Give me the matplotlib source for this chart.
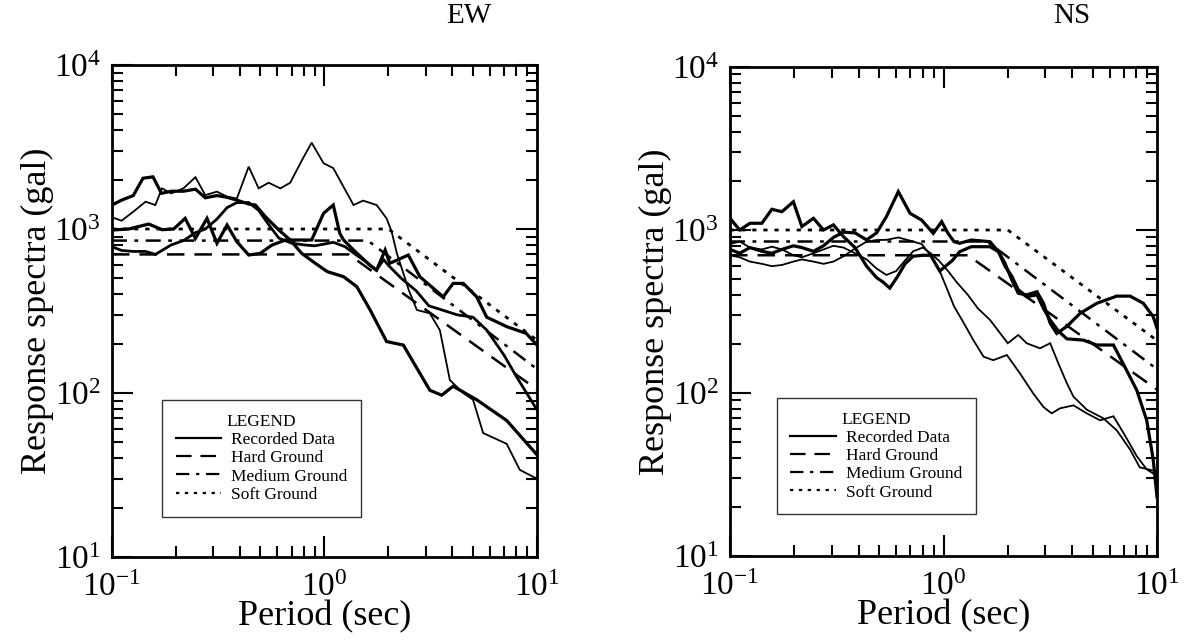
import numpy as np
import matplotlib.pyplot as plt
from matplotlib.ticker import LogLocator, NullFormatter

plt.rcParams['font.family'] = ['Liberation Serif', 'DejaVu Serif']
plt.rcParams['mathtext.fontset'] = 'stix'

# ---- design spectra (same on both panels)
hard_T = [0.1, 1.3, 10]
hard_sa = [700, 700, 105]
medium_T = [0.1, 1.6, 10]
medium_sa = [850, 850, 140]
soft_T = [0.1, 2.0, 10]
soft_sa = [1000, 1000, 210]

# ---- EW recorded spectra
ew_a_T = [0.1, 0.111, 0.126, 0.14, 0.156, 0.171, 0.19, 0.217, 0.247, 0.275, 0.312, 0.348,
          0.387, 0.44, 0.473, 0.527, 0.61, 0.69, 0.78, 0.905, 1.03, 1.23, 1.42, 1.64,
          1.96, 2.35, 3.13, 3.56, 4.03, 5.2, 7.2, 10]
ew_a_sa = [1400, 1500, 1600, 2040, 2080, 1650, 1700, 1700, 1750, 1550, 1600, 1560,
           1500, 1420, 1400, 1190, 986, 857, 712, 618, 550, 512, 445, 321,
           206, 196, 104, 97, 110, 91, 68, 42]

ew_b_T = [0.1, 0.111, 0.126, 0.144, 0.16, 0.172, 0.19, 0.217, 0.247, 0.275, 0.312, 0.348,
          0.387, 0.44, 0.49, 0.546, 0.62, 0.69, 0.78, 0.87, 0.99, 1.10, 1.37, 1.52,
          1.76, 1.96, 2.07, 2.19, 2.5, 2.72, 3.13, 3.49, 3.89, 4.5, 5.0, 5.58, 7.2, 8.3, 10]
ew_b_sa = [1180, 1124, 1275, 1468, 1400, 1770, 1650, 1770, 2070, 1610, 1690, 1575,
           1535, 2400, 1770, 1915, 1770, 1915, 2600, 3360, 2520, 2350, 1400, 1490,
           1400, 1160, 965, 712, 420, 321, 306, 242, 120, 100, 91, 57, 49, 34, 30]

ew_c_T = [0.1, 0.12, 0.149, 0.172, 0.195, 0.221, 0.247, 0.28, 0.312, 0.348, 0.387, 0.44,
          0.499, 0.566, 0.655, 0.757, 0.87, 0.99, 1.10, 1.18, 1.23, 1.37, 1.63, 1.76,
          1.93, 2.03, 2.48, 2.81, 3.62, 4.03, 4.5, 5.2, 5.8, 7.2, 8.9, 10]
ew_c_sa = [986, 1000, 1073, 990, 1000, 1161, 877, 1160, 818, 1058, 837, 694,
           711, 798, 857, 857, 857, 1247, 1400, 942, 857, 745, 603, 562,
           745, 618, 694, 512, 386, 466, 466, 386, 290, 254, 231, 196]

ew_d_T = [0.1, 0.111, 0.126, 0.144, 0.16, 0.19, 0.217, 0.247, 0.275, 0.312, 0.348, 0.387,
          0.44, 0.49, 0.55, 0.61, 0.7, 0.8, 0.9, 1.0, 1.1, 1.25, 1.4, 1.6, 1.75, 1.9,
          2.0, 2.3, 2.7, 3.1, 3.6, 4.2, 5.0, 5.8, 7.0, 8.0, 10]
ew_d_sa = [780, 740, 730, 730, 700, 800, 850, 950, 1000, 1150, 1350, 1450,
           1450, 1300, 1050, 880, 820, 800, 790, 810, 830, 780, 700, 620, 560, 650,
           600, 500, 420, 340, 320, 300, 290, 242, 170, 126, 79]

# ---- NS recorded spectra
ns_a_T = [0.1, 0.111, 0.124, 0.141, 0.157, 0.175, 0.198, 0.217, 0.246, 0.274, 0.305, 0.34,
          0.385, 0.436, 0.486, 0.52, 0.56, 0.61, 0.66, 0.72, 0.8, 0.87, 0.96, 1.1, 1.19,
          1.35, 1.65, 1.81, 1.94, 2.09, 2.24, 2.45, 2.74, 2.94, 3.16, 3.45, 3.78, 4.52,
          5.22, 6.25, 7.2, 8.04, 8.95, 9.6, 10]
ns_a_sa = [1180, 1000, 1100, 1100, 1340, 1295, 1490, 1050, 1180, 1000, 1075, 910,
           780, 600, 510, 480, 440, 520, 620, 690, 700, 700, 560, 650, 736,
           790, 790, 736, 600, 520, 430, 390, 400, 330, 280, 240, 215, 211,
           197, 197, 138, 104, 68, 39, 23]

ns_b_T = [0.1, 0.111, 0.124, 0.141, 0.157, 0.175, 0.198, 0.217, 0.246, 0.274, 0.305, 0.34,
          0.385, 0.436, 0.486, 0.54, 0.614, 0.697, 0.79, 0.895, 0.98, 1.05, 1.12, 1.19,
          1.35, 1.65, 1.81, 1.94, 2.09, 2.24, 2.45, 2.74, 2.94, 3.16, 3.39, 3.78, 4.36,
          5.22, 6.48, 7.48, 8.63, 9.6, 10]
ns_b_sa = [760, 720, 780, 740, 720, 760, 800, 780, 740, 800, 900, 970,
           960, 870, 960, 1207, 1720, 1265, 1150, 954, 1125, 954, 848, 829,
           868, 848, 736, 625, 493, 409, 400, 418, 355, 268, 232, 256, 308,
           355, 393, 393, 355, 294, 250]

ns_c_T = [0.1, 0.111, 0.124, 0.141, 0.157, 0.175, 0.198, 0.217, 0.246, 0.274, 0.305, 0.34,
          0.385, 0.436, 0.486, 0.54, 0.614, 0.697, 0.79, 0.87, 0.96, 1.05, 1.12, 1.22,
          1.38, 1.54, 1.71, 1.98, 2.28, 2.63, 2.94, 3.21, 3.51, 4.06, 4.69, 5.41, 6.25,
          6.96, 8.04, 8.95, 10]
ns_c_sa = [700, 680, 640, 620, 600, 610, 640, 660, 640, 620, 640, 690,
           770, 848, 868, 870, 900, 860, 820, 700, 560, 420, 340, 281,
           211, 167, 159, 171, 132, 99.5, 82, 75, 80.5, 84, 75, 68, 72,
           57, 41, 34, 31]

ns_d_T = [0.1, 0.111, 0.124, 0.141, 0.157, 0.175, 0.198, 0.217, 0.246, 0.274, 0.305, 0.34,
          0.385, 0.436, 0.486, 0.54, 0.6, 0.66, 0.72, 0.8, 0.87, 0.95, 1.05, 1.15, 1.3,
          1.45, 1.65, 2.0, 2.24, 2.45, 2.83, 3.16, 3.45, 3.78, 4.06, 4.69, 5.6, 6.48,
          7.48, 8.3, 10]
ns_d_sa = [820, 850, 780, 760, 790, 760, 700, 680, 720, 760, 800, 780,
           720, 660, 580, 530, 560, 650, 740, 780, 720, 650, 560, 480, 400,
           330, 281, 202, 227, 202, 188, 202, 152, 115, 95, 79, 70, 59,
           45, 35, 33]

panels = [
    ('EW', [(ew_a_T, ew_a_sa, 2.3), (ew_b_T, ew_b_sa, 1.3),
            (ew_c_T, ew_c_sa, 2.3), (ew_d_T, ew_d_sa, 2.0)],
     [0.0936, 0.1337, 0.3554, 0.7652], (0.84, 1.10), (0.117, 0.082)),
    ('NS', [(ns_a_T, ns_a_sa, 2.3), (ns_b_T, ns_b_sa, 2.3),
            (ns_c_T, ns_c_sa, 1.3), (ns_d_T, ns_d_sa, 1.3)],
     [0.6104, 0.1353, 0.357, 0.7605], (0.80, 1.105), (0.109, 0.085)),
]

fig = plt.figure(figsize=(11.96, 6.43), dpi=100)

for name, records, rect, title_pos, leg_pos in panels:
    ax = fig.add_axes(rect)
    for i, (T, sa, lw) in enumerate(records):
        ax.plot(T, sa, color='k', lw=lw, solid_joinstyle='miter',
                label='Recorded Data' if i == 0 else None)
    ax.plot(hard_T, hard_sa, color='k', lw=1.8, ls=(0, (7, 4)), label='Hard Ground')
    ax.plot(medium_T, medium_sa, color='k', lw=1.8, ls=(0, (6, 3, 1.5, 3)),
            label='Medium Ground')
    ax.plot(soft_T, soft_sa, color='k', lw=2.0, ls=(0, (1.5, 2.5)), label='Soft Ground')

    ax.set_xscale('log')
    ax.set_yscale('log')
    ax.set_xlim(0.1, 10)
    ax.set_ylim(10, 1e4)
    for axis in (ax.xaxis, ax.yaxis):
        axis.set_major_locator(LogLocator(base=10))
        axis.set_minor_locator(LogLocator(base=10, subs=np.arange(2, 10)))
        axis.set_minor_formatter(NullFormatter())
    ax.tick_params(which='both', direction='in', top=True, right=True,
                   width=1.5, labelsize=24)
    ax.tick_params(axis='x', which='major', pad=11)
    ax.tick_params(axis='y', which='major', pad=8)
    ax.tick_params(which='major', length=15)
    ax.tick_params(which='minor', length=8)
    for sp in ax.spines.values():
        sp.set_linewidth(2.0)

    ax.set_xlabel('Period (sec)', fontsize=26, labelpad=-2)
    ax.set_ylabel('Response spectra (gal)', fontsize=26, labelpad=0)
    ax.text(title_pos[0], title_pos[1], name, transform=ax.transAxes,
            ha='center', va='center', fontsize=21)

    leg = ax.legend(loc='lower left', bbox_to_anchor=leg_pos, title='LEGEND',
                    fontsize=12.5, title_fontsize=12.5, frameon=True, fancybox=False,
                    handlelength=2.6, labelspacing=0.12, borderpad=0.8,
                    handletextpad=0.6, borderaxespad=0)
    leg.get_frame().set_edgecolor('k')
    leg.get_frame().set_linewidth(1.0)
    for line in leg.get_lines():
        line.set_linewidth(1.6)

fig.savefig('out.png', dpi=100)
